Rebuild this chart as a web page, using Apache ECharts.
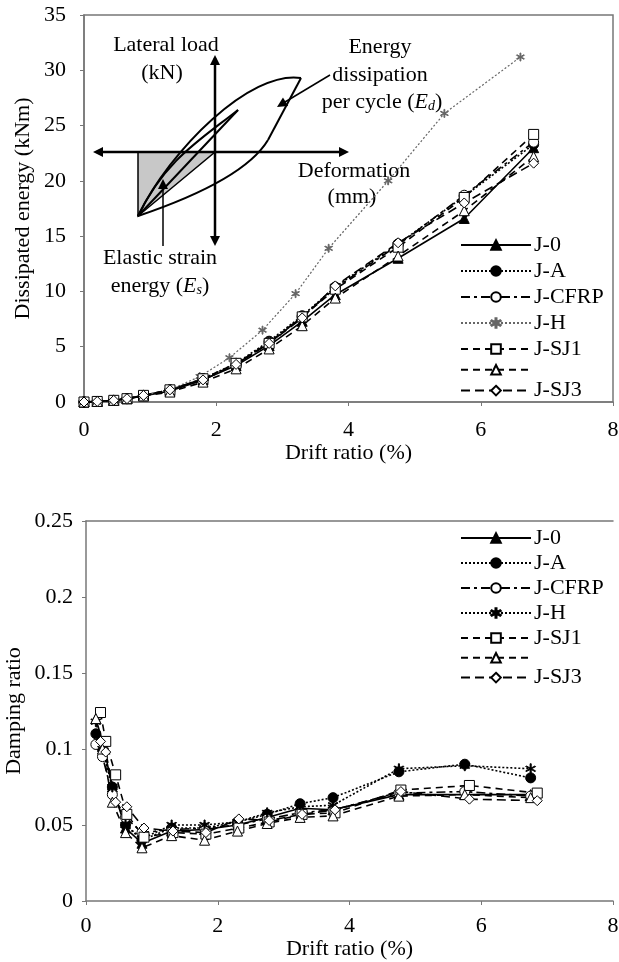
<!DOCTYPE html>
<html>
<head>
<meta charset="utf-8">
<script src="https://cdn.jsdelivr.net/npm/echarts@6/dist/echarts.min.js"></script>
<style>
  html, body { margin: 0; padding: 0; background: #fff; }
  #chart { width: 619px; height: 962px; }
</style>
</head>
<body>
<div id="chart"></div>
<script>
// ---- data ----
const seriesNames = ['J-0', 'J-A', 'J-CFRP', 'J-H', 'J-SJ1', 'J-SJ2', 'J-SJ3'];

// top panel: dissipated energy (kNm) vs drift ratio (%)
const driftTop = [0, 0.2, 0.45, 0.65, 0.9, 1.3, 1.8, 2.3, 2.8, 3.3, 3.8, 4.75, 5.75, 6.8];
const driftTopH = [0, 0.2, 0.45, 0.65, 0.9, 1.3, 1.75, 2.2, 2.7, 3.2, 3.7, 4.6, 5.45, 6.6];
const energyJ0 = [0, 0.05, 0.15, 0.3, 0.55, 1.0, 2.0, 3.3, 5.1, 7.3, 9.7, 13.0, 16.6, 23.0];
const energyJA = [0, 0.05, 0.15, 0.3, 0.6, 1.1, 2.1, 3.5, 5.5, 7.8, 10.4, 14.3, 18.6, 23.3];
const energyJCFRP = [0, 0.05, 0.15, 0.3, 0.6, 1.1, 2.1, 3.4, 5.4, 7.7, 10.3, 14.2, 18.7, 23.5];
const energyJH = [0, 0.05, 0.15, 0.3, 0.6, 1.1, 2.3, 4.0, 6.5, 9.8, 13.9, 20.0, 26.1, 31.2];
const energyJSJ1 = [0, 0.05, 0.15, 0.3, 0.6, 1.1, 2.1, 3.5, 5.3, 7.7, 10.2, 14.0, 18.5, 24.2];
const energyJSJ2 = [0, 0.05, 0.15, 0.3, 0.55, 0.9, 1.8, 3.0, 4.8, 6.9, 9.4, 13.2, 17.3, 22.2];
const energyJSJ3 = [0, 0.05, 0.15, 0.3, 0.6, 1.1, 2.0, 3.4, 5.3, 7.6, 10.5, 14.4, 18.0, 21.6];

// bottom panel: damping ratio vs drift ratio (%)
const driftBottom = [0.15, 0.25, 0.4, 0.6, 0.85, 1.3, 1.8, 2.3, 2.75, 3.25, 3.75, 4.75, 5.75, 6.75];
const driftBottomSJ = [0.22, 0.3, 0.45, 0.62, 0.88, 1.32, 1.82, 2.32, 2.78, 3.28, 3.78, 4.78, 5.82, 6.85];
const dampJ0 = [0.12, 0.105, 0.075, 0.048, 0.038, 0.046, 0.047, 0.05, 0.055, 0.061, 0.06, 0.07, 0.07, 0.07];
const dampJA = [0.11, 0.1, 0.075, 0.05, 0.04, 0.048, 0.048, 0.052, 0.057, 0.064, 0.068, 0.085, 0.09, 0.081];
const dampJCFRP = [0.103, 0.095, 0.07, 0.055, 0.045, 0.047, 0.048, 0.05, 0.054, 0.058, 0.06, 0.071, 0.072, 0.069];
const dampJH = [0.118, 0.1, 0.075, 0.05, 0.041, 0.05, 0.05, 0.052, 0.058, 0.062, 0.063, 0.087, 0.089, 0.087];
const dampJSJ1 = [0.124, 0.105, 0.083, 0.057, 0.042, 0.045, 0.044, 0.048, 0.052, 0.057, 0.058, 0.073, 0.076, 0.071];
const dampJSJ2 = [0.12, 0.1, 0.065, 0.045, 0.035, 0.043, 0.04, 0.046, 0.051, 0.055, 0.056, 0.069, 0.07, 0.068];
const dampJSJ3 = [0.105, 0.098, 0.065, 0.062, 0.048, 0.046, 0.045, 0.054, 0.053, 0.057, 0.06, 0.072, 0.067, 0.066];

const energyTicks = [0, 5, 10, 15, 20, 25, 30, 35];
const dampTicks = [0, 0.05, 0.1, 0.15, 0.2, 0.25];
const driftTicks = [0, 2, 4, 6, 8];

// ---- styling ----
const FONT = '"Liberation Serif", "DejaVu Serif", serif';
const FS = 22;
const ASTERISK = 'path://M46 0L54 0L54 100L46 100Z M17.3 21.7L87.3 71.7L82.7 78.3L12.7 28.3Z M87.3 28.3L17.3 78.3L12.7 71.7L82.7 21.7Z';

const styles = {
    'J-0':    { symbol: 'triangle', fill: '#000', line: 'solid' },
    'J-A':    { symbol: 'circle', fill: '#000', line: [2, 2] },
    'J-CFRP': { symbol: 'circle', fill: '#fff', line: [9, 4, 3, 4] },
    'J-H':    { symbol: ASTERISK, fill: '#000', line: [2, 2] },
    'J-SJ1':  { symbol: 'rect', fill: '#fff', line: [7, 5] },
    'J-SJ2':  { symbol: 'triangle', fill: '#fff', line: [7, 5] },
    'J-SJ3':  { symbol: 'diamond', fill: '#fff', line: [9, 5] }
};

function zip(xs, ys) {
    return xs.map((x, i) => [x, ys[i]]);
}

function makeSeries(name, suffix, idx, xs, ys, opts) {
    const s = styles[name];
    opts = opts || {};
    return {
        name: name + suffix,
        type: 'line',
        xAxisIndex: idx,
        yAxisIndex: idx,
        data: zip(xs, ys),
        symbol: s.symbol,
        symbolSize: opts.size || 10,
        showAllSymbol: true,
        lineStyle: { color: opts.color || '#000', width: opts.width || 1.6, type: s.line },
        itemStyle: {
            color: s.fill === '#000' ? (opts.color || '#000') : '#fff',
            borderColor: opts.color || '#000',
            borderWidth: 1
        },
        emphasis: { disabled: true },
        animation: false
    };
}

const topSeries = [
    makeSeries('J-0', '', 0, driftTop, energyJ0),
    makeSeries('J-A', '', 0, driftTop, energyJA),
    makeSeries('J-CFRP', '', 0, driftTop, energyJCFRP),
    makeSeries('J-H', '', 0, driftTopH, energyJH, { color: '#666', width: 1.2, size: 8 }),
    makeSeries('J-SJ1', '', 0, driftTop, energyJSJ1),
    makeSeries('J-SJ2', '', 0, driftTop, energyJSJ2),
    makeSeries('J-SJ3', '', 0, driftTop, energyJSJ3)
];
const bottomSeries = [
    makeSeries('J-0', ' ', 1, driftBottom, dampJ0),
    makeSeries('J-A', ' ', 1, driftBottom, dampJA),
    makeSeries('J-CFRP', ' ', 1, driftBottom, dampJCFRP),
    makeSeries('J-H', ' ', 1, driftBottom, dampJH),
    makeSeries('J-SJ1', ' ', 1, driftBottomSJ, dampJSJ1),
    makeSeries('J-SJ2', ' ', 1, driftBottom, dampJSJ2),
    makeSeries('J-SJ3', ' ', 1, driftBottomSJ, dampJSJ3)
];

function legendFor(suffix, top, gap) {
    return {
        orient: 'vertical',
        left: 460,
        top: top,
        padding: 0,
        itemWidth: 70,
        itemHeight: 12,
        itemGap: gap,
        selectedMode: false,
        data: seriesNames.map(n => n + suffix),
        formatter: function (name) {
            const n = name.trim();
            return n === 'J-SJ2' ? '' : n;
        },
        textStyle: { fontFamily: FONT, fontSize: FS, color: '#000', lineHeight: 22, padding: [0, 0, 0, -2] }
    };
}

const axisLine = { show: true, lineStyle: { color: '#777', width: 1.5 } };
const axisTick = { show: true, length: 4, lineStyle: { color: '#777' } };
const nameStyle = { fontFamily: FONT, fontSize: FS, color: '#000' };
function axisLabel(margin) {
    return { fontFamily: FONT, fontSize: FS, color: '#000', margin: margin };
}

// ---- inset schematic (top panel) ----
const ink = { stroke: '#000', lineWidth: 2, fill: null };
function arrowHead(x, y, angle) {
    const len = 10, half = 5;
    const c = Math.cos(angle), s = Math.sin(angle);
    const bx = x - len * c, by = y - len * s;
    return {
        type: 'polygon',
        shape: { points: [[x, y], [bx - half * s, by + half * c], [bx + half * s, by - half * c]] },
        style: { fill: '#000' }
    };
}
function text(str, x, y) {
    return {
        type: 'text', x: x, y: y,
        style: { text: str, font: FS + 'px ' + FONT, fill: '#000', align: 'center', verticalAlign: 'middle' }
    };
}
function richText(parts, x, y) {
    return {
        type: 'text', x: x, y: y,
        style: {
            text: parts,
            fill: '#000',
            align: 'center',
            verticalAlign: 'middle',
            font: FS + 'px ' + FONT,
            rich: {
                i: { font: 'italic ' + FS + 'px ' + FONT, fill: '#000' },
                sub: { font: 'italic 14px ' + FONT, fill: '#000', padding: [9, 0, 0, 0] }
            }
        }
    };
}

const inset = [
    // shaded elastic strain triangle
    { type: 'polygon', shape: { points: [[138, 152], [215, 152], [138, 216]] }, style: { fill: '#c8c8c8', stroke: '#000', lineWidth: 1.5 } },
    // outer loop
    { type: 'bezierCurve', shape: { x1: 138, y1: 216, cpx1: 170, cpy1: 150, cpx2: 250, cpy2: 70, x2: 301, y2: 78 }, style: ink },
    { type: 'bezierCurve', shape: { x1: 138, y1: 216, cpx1: 200, cpy1: 195, cpx2: 250, cpy2: 170, x2: 268, y2: 140 }, style: ink },
    { type: 'line', shape: { x1: 268, y1: 140, x2: 301, y2: 78 }, style: ink },
    // inner loop
    { type: 'bezierCurve', shape: { x1: 138, y1: 216, cpx1: 165, cpy1: 160, cpx2: 200, cpy2: 140, x2: 238, y2: 110 }, style: ink },
    { type: 'line', shape: { x1: 138, y1: 216, x2: 238, y2: 110 }, style: ink },
    // axes of schematic
    { type: 'line', shape: { x1: 215, y1: 58, x2: 215, y2: 242 }, style: { stroke: '#000', lineWidth: 2.5 } },
    arrowHead(215, 55, -Math.PI / 2),
    arrowHead(215, 246, Math.PI / 2),
    { type: 'line', shape: { x1: 97, y1: 152, x2: 345, y2: 152 }, style: { stroke: '#000', lineWidth: 2.5 } },
    arrowHead(93, 152, Math.PI),
    arrowHead(349, 152, 0),
    // pointer to loop
    { type: 'line', shape: { x1: 330, y1: 75, x2: 280, y2: 105 }, style: { stroke: '#000', lineWidth: 1.5 } },
    arrowHead(277, 107, Math.atan2(32, -53)),
    // elastic strain pointer
    { type: 'line', shape: { x1: 163, y1: 246, x2: 163, y2: 185 }, style: { stroke: '#000', lineWidth: 1.5 } },
    arrowHead(163, 179, -Math.PI / 2),
    // labels
    text('Lateral load', 166, 45),
    text('(kN)', 162, 73),
    text('Energy', 380, 47),
    text('dissipation', 380, 75),
    richText('per cycle ({i|E}{sub|d})', 382, 102),
    text('Deformation', 354, 171),
    text('(mm)', 352, 197),
    text('Elastic strain', 160, 258),
    richText('energy ({i|E}{sub|s})', 160, 286)
];

const option = {
    backgroundColor: '#fff',
    animation: false,
    textStyle: { fontFamily: FONT },
    legend: [legendFor('', 234, 4), legendFor(' ', 527, 3)],
    grid: [
        { left: 84, right: 6, top: 15, bottom: 560, show: true, borderColor: '#777', borderWidth: 1.5, outerBoundsMode: 'none' },
        { left: 86, right: 6, top: 521, bottom: 61, outerBoundsMode: 'none' }
    ],
    xAxis: [
        {
            type: 'value', gridIndex: 0, min: driftTicks[0], max: driftTicks[driftTicks.length - 1], interval: 2,
            name: 'Drift ratio (%)', nameLocation: 'middle', nameGap: 32, nameTextStyle: nameStyle,
            axisLine: axisLine, axisTick: axisTick, axisLabel: axisLabel(17), splitLine: { show: false }
        },
        {
            type: 'value', gridIndex: 1, min: driftTicks[0], max: driftTicks[driftTicks.length - 1], interval: 2,
            name: 'Drift ratio (%)', nameLocation: 'middle', nameGap: 37, nameTextStyle: nameStyle,
            axisLine: axisLine, axisTick: axisTick, axisLabel: axisLabel(14), splitLine: { show: false }
        },
        {
            type: 'value', gridIndex: 1, position: 'top', min: 0, max: 8,
            axisLine: axisLine, axisTick: { show: false }, axisLabel: { show: false }, splitLine: { show: false }
        }
    ],
    yAxis: [
        {
            type: 'value', gridIndex: 0, min: energyTicks[0], max: energyTicks[energyTicks.length - 1], interval: 5,
            name: 'Dissipated energy (kNm)', nameLocation: 'middle', nameGap: 50, nameMoveOverlap: false, nameTextStyle: nameStyle,
            axisLine: axisLine, axisTick: axisTick, axisLabel: axisLabel(18), splitLine: { show: false }
        },
        {
            type: 'value', gridIndex: 1, min: dampTicks[0], max: dampTicks[dampTicks.length - 1], interval: 0.05,
            name: 'Damping ratio', nameLocation: 'middle', nameGap: 61, nameMoveOverlap: false, nameTextStyle: nameStyle,
            axisLine: axisLine, axisTick: axisTick, axisLabel: axisLabel(13), splitLine: { show: false }
        }
    ],
    graphic: inset,
    series: topSeries.concat(bottomSeries)
};

const chart = echarts.init(document.getElementById('chart'), null, { renderer: 'canvas' });
chart.setOption(option);
window.addEventListener('resize', function () {
    chart.resize();
});
</script>
</body>
</html>
